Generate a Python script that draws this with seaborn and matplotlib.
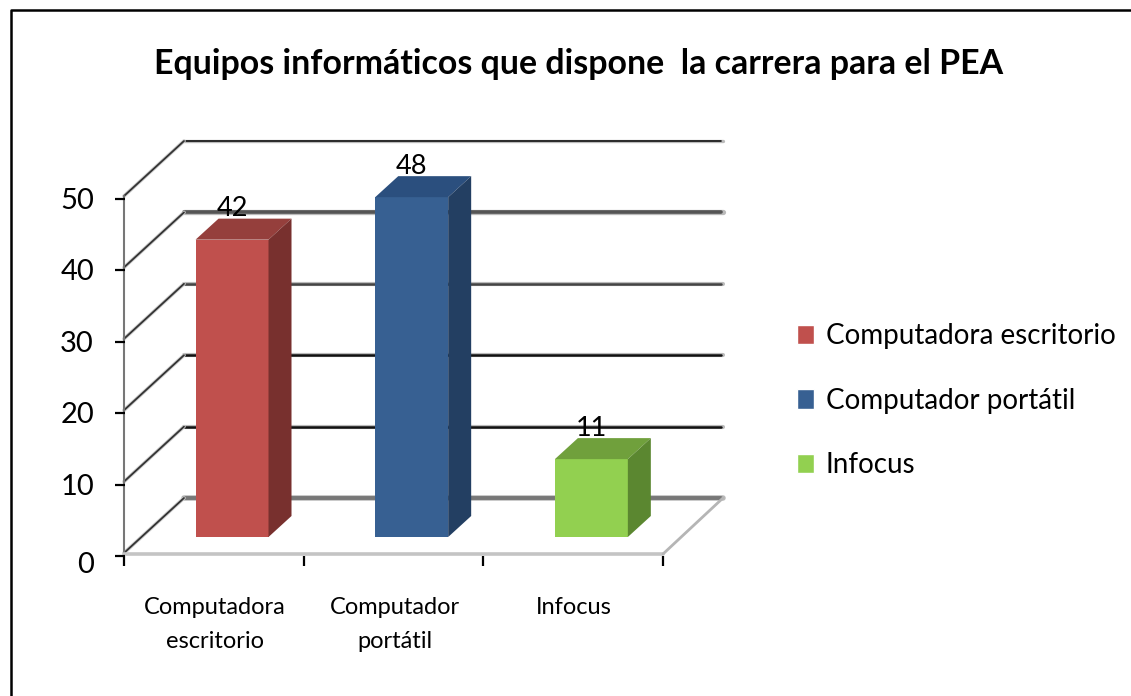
import matplotlib
matplotlib.use("Agg")
import matplotlib.pyplot as plt
import seaborn as sns
import pandas as pd
from matplotlib.patches import Polygon
from matplotlib.transforms import Affine2D
from matplotlib.lines import Line2D

categories = ["Computadora escritorio", "Computador portátil", "Infocus"]
tick_labels = ["Computadora\nescritorio", "Computador\nportátil", "Infocus"]
values = [42, 48, 11]
y_ticks = [0, 10, 20, 30, 40, 50]
front_colors = ["#C0504D", "#376092", "#92D050"]
top_colors = ["#953F3C", "#2B4F7E", "#70A03C"]
side_colors = ["#78302E", "#233F62", "#5B8730"]
title = "Equipos informáticos que dispone  la carrera para el PEA"

W, H = 1131, 696
sns.set_theme(style="white")
plt.rcParams["font.family"] = ["Lato", "DejaVu Sans"]
plt.rcParams["text.color"] = "black"
fig = plt.figure(figsize=(W / 100, H / 100), dpi=100)


def box(left, right, top, bottom):
    return [left / W, 1 - bottom / H, (right - left) / W, (bottom - top) / H]


# axis frame (ticks and labels)
ax = fig.add_axes(box(124, 663, 199, 556))
ax.set_xlim(0, 3)
ax.set_ylim(0, 50)
ax.patch.set_alpha(0)
for s in ax.spines.values():
    s.set_visible(False)
ax.set_xticks([0, 1, 2, 3])
ax.set_xticklabels([])
ax.set_yticks(y_ticks)
ax.set_yticklabels([])
ax.tick_params(axis="both", length=0)


def px(dx, dy):
    return ax.transData + Affine2D().translate(dx, -dy)


# tick marks and y labels
for v in y_ticks:
    ax.add_artist(Line2D([0], [v], marker="_", ms=6.5, mew=1.6, color="black",
                         transform=px(-4.5, 0), clip_on=False))
    ax.annotate(str(v), (0, v), xytext=(-30, -9 if v == 0 else -2), textcoords="offset pixels",
                ha="right", va="center", fontsize=21, color="black", annotation_clip=False)
for i in [0, 1, 2, 3]:
    ax.add_artist(Line2D([i], [0], marker="|", ms=6.5, mew=1.6, color="black",
                         transform=px(0, 5), clip_on=False))

# back-wall gridlines, side-wall diagonals and floor
BACK = (60, -58)
EDGE = (0, -3)
shadow = {0: 3.2, 10: 2.2, 20: 2.2, 30: 2.2, 40: 3.0, 50: 1.6}
colors = {0: "#777777", 10: "#111111", 20: "#111111", 30: "#444444", 40: "#555555", 50: "#111111"}
for v in y_ticks:
    ax.add_artist(Line2D([0, 3], [v, v], color="#bbbbbb", lw=shadow[v] + 0.8,
                         transform=px(*BACK), clip_on=False, zorder=1))
    ax.add_artist(Line2D([0, 2.99], [v, v], color=colors[v], lw=shadow[v] - 0.4,
                         transform=px(*BACK), clip_on=False, zorder=1))
    p0 = ax.transData.transform((0, v)) + (EDGE[0], -EDGE[1])
    p1 = ax.transData.transform((0, v)) + (BACK[0], -BACK[1])
    ax.add_artist(Line2D([p0[0], p1[0]], [p0[1], p1[1]], color="#cccccc", lw=2.6,
                         transform=None, clip_on=False, zorder=1))
    ax.add_artist(Line2D([p0[0], p1[0]], [p0[1], p1[1]], color="#333333", lw=1.3,
                         transform=None, clip_on=False, zorder=1))
p_top = ax.transData.transform((0, 50)) + (0, 3)
p_bot = ax.transData.transform((0, 0)) + (0, 3)
ax.add_artist(Line2D([p_top[0], p_bot[0]], [p_top[1], p_bot[1]], color="#777777", lw=1.5,
                     transform=None, clip_on=False, zorder=1))
f0 = ax.transData.transform((0, 0)) + (0, 2)
f1 = ax.transData.transform((3, 0)) + (0, 2)
f2 = ax.transData.transform((3, 0)) + (BACK[0], -BACK[1])
ax.add_artist(Line2D([f0[0], f1[0]], [f0[1], f1[1]], color="#c4c4c4", lw=2.6,
                     transform=None, clip_on=False, zorder=1))
ax.add_artist(Line2D([f1[0], f2[0]], [f1[1], f2[1]], color="#b5b5b5", lw=2.0,
                     transform=None, clip_on=False, zorder=1))

# category labels
for i, lab in enumerate(tick_labels):
    ax.annotate(lab, (i + 0.5, 0), xytext=(1, -41), textcoords="offset pixels",
                ha="center", va="top", fontsize=17, linespacing=1.78, color="black",
                annotation_clip=False)

# bars
ax2 = fig.add_axes(box(142.2, 681.2, 183, 537))
df = pd.DataFrame({"cat": categories, "val": values})
sns.barplot(data=df, x="cat", y="val", hue="cat", hue_order=categories, order=categories,
            palette=front_colors, width=0.406, dodge=False, saturation=1, legend=True, ax=ax2)
ax2.set_xlim(-0.5, 2.5)
ax2.set_ylim(0, 50)
ax2.patch.set_alpha(0)
ax2.axis("off")
handles, labels = ax2.get_legend_handles_labels()
ax2.get_legend().remove()

DX, DY = 23, 21
bars = [b for b in ax2.patches if b.get_height() > 0]
for b, ct, cs in zip(bars, top_colors, side_colors):
    b.set_linewidth(0)
    b.set_zorder(3)
    x0, x1, h = b.get_x(), b.get_x() + b.get_width(), b.get_height()
    a = ax2.transData.transform([(x0, h), (x1, h), (x1, 0)])
    top = [a[0], a[1], a[1] + (DX, DY), a[0] + (DX, DY)]
    side = [a[1], a[2], a[2] + (DX, DY), a[1] + (DX, DY)]
    ax2.add_artist(Polygon(top, closed=True, fc=ct, ec="none", transform=None, zorder=3, clip_on=False))
    ax2.add_artist(Polygon(side, closed=True, fc=cs, ec="none", transform=None, zorder=3, clip_on=False))
    ax2.annotate(f"{int(h)}", ((x0 + x1) / 2, h), xytext=(0, 31), textcoords="offset pixels",
                 ha="center", va="center", fontsize=19.5, color="black", zorder=5,
                 annotation_clip=False)

# legend
fig.legend(handles, labels, loc="upper left", bbox_to_anchor=(789 / W, 1 - 315 / H),
           frameon=False, fontsize=20, handlelength=0.6, handleheight=0.7,
           handletextpad=0.42, labelspacing=1.38, borderpad=0.3, borderaxespad=0,
           labelcolor="black")

# title
fig.text(578.5 / W, 1 - 64 / H, title, ha="center", va="center", fontsize=24.4,
         fontweight="bold", color="black")

# chart border (left and top edges)
fig.add_artist(Line2D([10.5 / W, 10.5 / W, 1], [0, 1 - 10 / H, 1 - 10 / H], color="black",
                      lw=1.8, transform=fig.transFigure))

fig.savefig("out.png", dpi=100)
